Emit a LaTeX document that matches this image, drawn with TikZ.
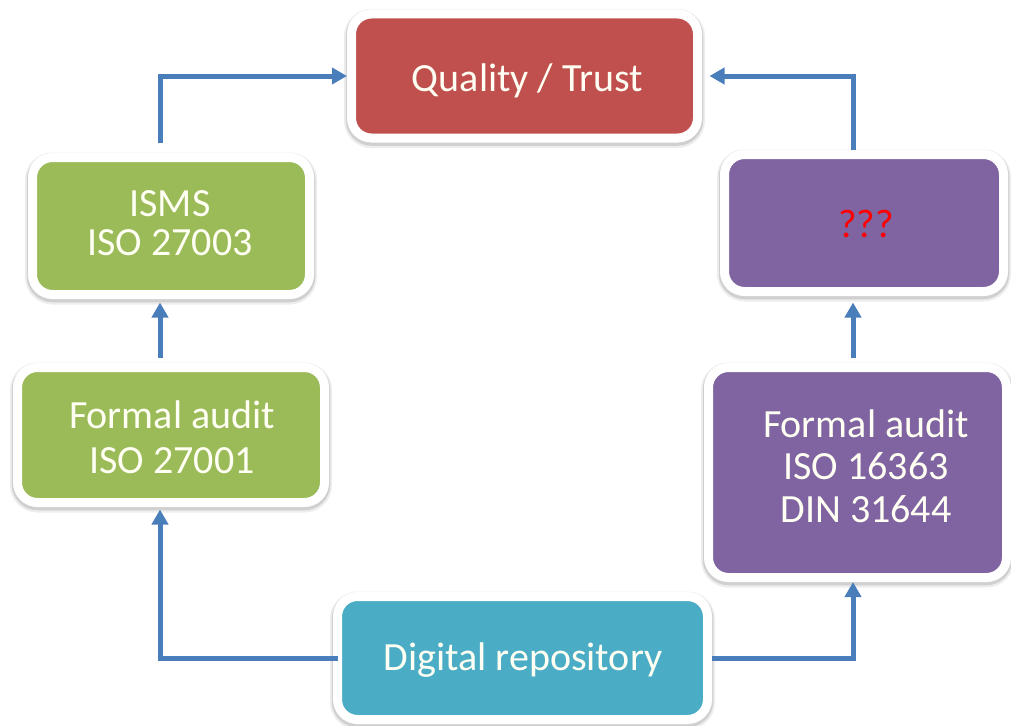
\documentclass[tikz,border=0pt]{standalone}
\usepackage{fontspec}
\setmainfont{Carlito}
\usetikzlibrary{arrows.meta,calc}
\definecolor{qred}{HTML}{C0504D}
\definecolor{qgreen}{HTML}{9BBB59}
\definecolor{qpurple}{HTML}{8064A2}
\definecolor{qteal}{HTML}{4BACC6}
\definecolor{qarrow}{HTML}{4A7EBB}
\definecolor{qtext}{HTML}{FFFFF4}
\tikzset{
  box/.style={rectangle, rounded corners=20pt, draw=white, line width=9pt, inner sep=0pt,
    preaction={draw=black, draw opacity=0.07, line width=15pt, transform canvas={yshift=-2.5pt}},
    preaction={draw=black, draw opacity=0.12, line width=11.5pt, transform canvas={yshift=-2pt}}},
  txt/.style={text=qtext, align=center, inner sep=0pt},
  conn/.style={draw=qarrow, line width=5pt, -{Triangle[length=15pt,width=16pt]}}
}
\begin{document}
\begin{tikzpicture}[x=1pt,y=-1pt]
\useasboundingbox[fill=white] (0,0) rectangle (1011,725);
% boxes
\node[box, fill=qred, minimum width=346pt, minimum height=124pt] (Q) at (524.5,76) {};
\node[box, fill=qgreen, minimum width=277pt, minimum height=137pt] (I) at (171,226) {};
\node[box, fill=qpurple, minimum width=279pt, minimum height=137pt] (R) at (864,223) {};
\node[box, fill=qgreen, minimum width=307pt, minimum height=135pt] (F1) at (171,435) {};
\node[box, fill=qpurple, minimum width=298pt, minimum height=210pt] (F2) at (857.5,472.5) {};
\node[box, fill=qteal, minimum width=370pt, minimum height=123pt] (D) at (522.5,658) {};
% texts
\node[txt, anchor=base, font=\fontsize{40}{48}\selectfont] (Qt) at (527.5,92) {Quality / Trust};
\node[txt, anchor=center, font=\fontsize{40}{39}\selectfont] (It) at (170,223) {ISMS\\ISO 27003};
\node[txt, anchor=base, text=red, font=\fontsize{40}{48}\selectfont] (Rt) at (866,237) {???};
\node[txt, anchor=center, font=\fontsize{40}{45}\selectfont] (F1t) at (172,437.5) {Formal audit\\ISO 27001};
\node[txt, anchor=center, font=\fontsize{40}{42.5}\selectfont] (F2t) at (866,466) {Formal audit\\ISO 16363\\DIN 31644};
\node[txt, anchor=base, font=\fontsize{40}{48}\selectfont] (Dt) at (523,670) {Digital repository};
% connector columns
\coordinate (xl) at (160,0);
\coordinate (xr) at (853,0);
% connectors
\draw[conn, shorten <=10pt] (I.north -| xl) |- (Q.west);
\draw[conn, shorten >=7.5pt] (R.north -| xr) |- (Q.east);
\draw[conn, shorten <=5.5pt, shorten >=3.5pt] (F1.north -| xl) -- (I.south -| xl);
\draw[conn, shorten <=5.5pt, shorten >=6.5pt] (F2.north -| xr) -- (R.south -| xr);
\draw[conn, shorten <=-4.5pt, shorten >=2.5pt] (D.west) -| (F1.south -| xl);
\draw[conn] (D.east) -| (F2.south -| xr);
\end{tikzpicture}
\end{document}
